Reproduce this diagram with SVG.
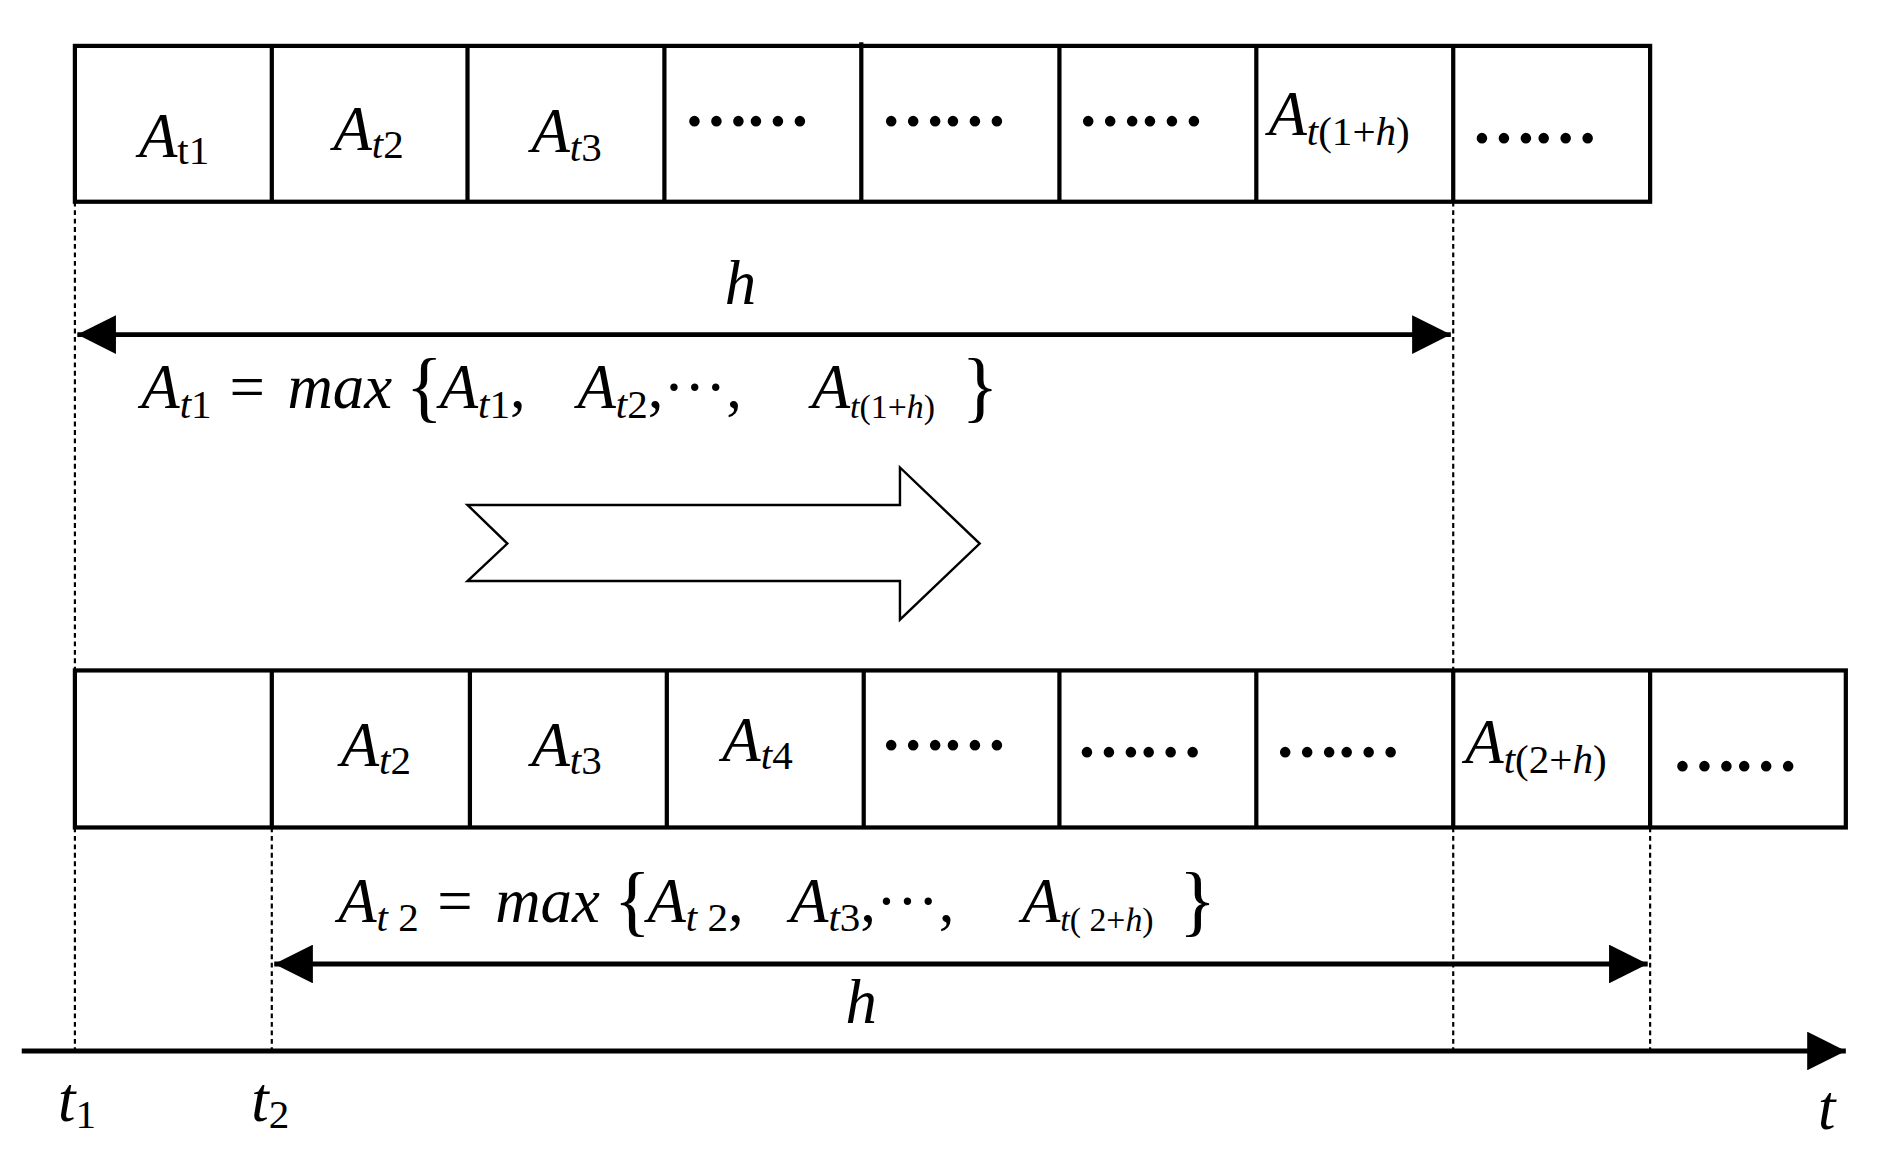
<svg xmlns="http://www.w3.org/2000/svg" width="1894" height="1166" viewBox="0 0 1894 1166">
<style>
.b{fill:none;stroke:#000;stroke-width:3.5}
.d{fill:none;stroke:#000;stroke-width:1.8;stroke-dasharray:4 3}
.l{stroke:#000;stroke-width:4;fill:none}
text{font-family:"Liberation Serif",serif;fill:#000}
.a{font-style:italic;font-size:52px}
.n{font-style:normal}
.s{font-size:34px}
.dots{font-size:54px;font-weight:bold;letter-spacing:-3px}
.br{font-style:normal;font-size:64px;font-weight:100}
</style>
<defs>
<marker id="ah" viewBox="0 0 10 10" refX="10" refY="5" markerWidth="38" markerHeight="32" markerUnits="userSpaceOnUse" orient="auto-start-reverse"><path d="M0,0L10,5L0,10Z" fill="#000"/></marker>
</defs>
<rect width="1894" height="1166" fill="#fff"/>
<g transform="scale(1.208)">
<g id="row1">
<rect class="b" x="62" y="38" width="1304" height="129"/>
<path class="b" d="M225 38V167M387 38V167M550 38V167M713 35V167M877 38V167M1040 38V167M1203 38V167"/>
<text class="a" x="115" y="130">A<tspan class="s n" dy="6">t1</tspan></text>
<text class="a" x="276" y="124">A<tspan class="s" dy="7">t</tspan><tspan class="s n">2</tspan></text>
<text class="a" x="440" y="126">A<tspan class="s" dy="7">t</tspan><tspan class="s n">3</tspan></text>
<text class="dots" x="566" y="104">……</text>
<text class="dots" x="729" y="104">……</text>
<text class="dots" x="892" y="104">……</text>
<text class="a" x="1050" y="112">A<tspan class="s" dy="8">t</tspan><tspan class="s n">(1+</tspan><tspan class="s">h</tspan><tspan class="s n">)</tspan></text>
<text class="dots" x="1218" y="118">……</text>
</g>
<g id="row2">
<rect class="b" x="62" y="555" width="1466" height="130"/>
<path class="b" d="M225 555V685M389 555V685M552 555V685M715 555V685M877 555V685M1040 555V685M1203 555V685M1366 555V685"/>
<text class="a" x="282" y="634">A<tspan class="s" dy="7">t</tspan><tspan class="s n">2</tspan></text>
<text class="a" x="440" y="634">A<tspan class="s" dy="7">t</tspan><tspan class="s n">3</tspan></text>
<text class="a" x="598" y="630">A<tspan class="s" dy="7">t</tspan><tspan class="s n">4</tspan></text>
<text class="dots" x="729" y="621">……</text>
<text class="dots" x="891" y="627">……</text>
<text class="dots" x="1055" y="627">……</text>
<text class="a" x="1213" y="632">A<tspan class="s" dy="8">t</tspan><tspan class="s n">(2+</tspan><tspan class="s">h</tspan><tspan class="s n">)</tspan></text>
<text class="dots" x="1384" y="638">……</text>
</g>
<g id="bigarrow">
<polygon points="387,418 745,418 745,387 811,450 745,513 745,481 387,481 420,450" fill="#fff" stroke="#000" stroke-width="2"/>
</g>
<g id="labels">
<text class="a" x="600" y="252">h</text>
<text class="a" x="700" y="847">h</text>
<text class="a" y="338"><tspan x="117">A</tspan><tspan class="s" dy="8">t</tspan><tspan class="s n">1</tspan><tspan class="n" x="190" dy="-8">=</tspan><tspan x="238">max</tspan><tspan class="br" x="336" dy="4">{</tspan><tspan x="364" dy="-4">A</tspan><tspan class="s" dy="8">t</tspan><tspan class="s n">1</tspan><tspan class="n" dy="-8">,</tspan><tspan x="478">A</tspan><tspan class="s" dy="8">t</tspan><tspan class="s n">2</tspan><tspan class="n" dy="-8">,···,</tspan><tspan x="672">A</tspan><tspan font-size="28" dy="8">t</tspan><tspan font-size="28" class="n">(1+</tspan><tspan font-size="28">h</tspan><tspan font-size="28" class="n">)</tspan><tspan class="br" x="796" dy="-4">}</tspan></text>
<text class="a" y="763"><tspan x="280">A</tspan><tspan class="s" dy="8">t</tspan><tspan class="s n"> 2</tspan><tspan class="n" x="362" dy="-8">=</tspan><tspan x="410">max</tspan><tspan class="br" x="508" dy="4">{</tspan><tspan x="536" dy="-4">A</tspan><tspan class="s" dy="8">t</tspan><tspan class="s n"> 2</tspan><tspan class="n" dy="-8">,</tspan><tspan x="654">A</tspan><tspan class="s" dy="8">t</tspan><tspan class="s n">3</tspan><tspan class="n" dy="-8">,···,</tspan><tspan x="846">A</tspan><tspan font-size="28" dy="8">t</tspan><tspan font-size="28" class="n">( 2+</tspan><tspan font-size="28">h</tspan><tspan font-size="28" class="n">)</tspan><tspan class="br" x="976" dy="-4">}</tspan></text>
<text class="a" x="48" y="928">t<tspan class="s n" dy="6">1</tspan></text>
<text class="a" x="208" y="928">t<tspan class="s n" dy="6">2</tspan></text>
<text class="a" x="1505" y="935">t</text>
</g>
<g id="connectors">
<path class="d" d="M62 167V870M1203 167V555M1203 685V870M225 685V870M1366 685V870"/>
<line class="l" x1="64" y1="277" x2="1201" y2="277" marker-start="url(#ah)" marker-end="url(#ah)"/>
<line class="l" x1="227" y1="798" x2="1364" y2="798" marker-start="url(#ah)" marker-end="url(#ah)"/>
<line class="l" x1="18" y1="870" x2="1528" y2="870" marker-end="url(#ah)"/>
</g>
</g>
</svg>
